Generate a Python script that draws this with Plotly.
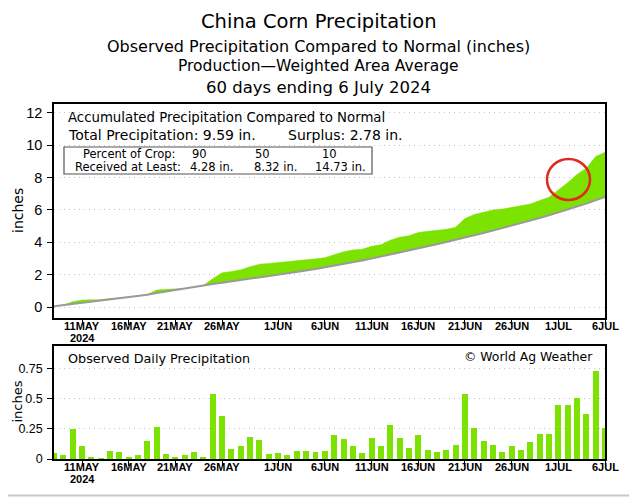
import numpy as np
import pandas as pd
import plotly.graph_objects as go
from plotly.subplots import make_subplots

# 60 days ending 6 July 2024
dates = pd.date_range("2024-05-08", "2024-07-06", freq="D")

# observed daily precipitation (inches)
daily_precip = [
    0.05, 0.03, 0.25, 0.105, 0.015, 0.005, 0.07, 0.055, 0.015, 0.037,
    0.15, 0.27, 0.04, 0.014, 0.03, 0.055, 0.02, 0.54, 0.36, 0.083,
    0.108, 0.186, 0.16, 0.042, 0.053, 0.036, 0.07, 0.067, 0.061, 0.07,
    0.20, 0.17, 0.11, 0.047, 0.175, 0.105, 0.28, 0.178, 0.089, 0.20,
    0.075, 0.058, 0.072, 0.12, 0.54, 0.26, 0.15, 0.12, 0.055, 0.105,
    0.072, 0.14, 0.21, 0.21, 0.45, 0.45, 0.51, 0.375, 0.73, 0.26,
]

# normal accumulated precipitation (inches)
normal_accum = [
    0.05, 0.12, 0.19, 0.25, 0.32, 0.38, 0.45, 0.51, 0.58, 0.67,
    0.76, 0.86, 0.96, 1.06, 1.15, 1.25, 1.34, 1.42, 1.50, 1.58,
    1.66, 1.74, 1.82, 1.89, 1.97, 2.06, 2.15, 2.25, 2.35, 2.45,
    2.54, 2.65, 2.76, 2.87, 2.99, 3.11, 3.23, 3.36, 3.49, 3.62,
    3.75, 3.88, 4.01, 4.15, 4.29, 4.43, 4.57, 4.72, 4.87, 5.02,
    5.18, 5.34, 5.50, 5.67, 5.84, 6.02, 6.21, 6.40, 6.60, 6.81,
]

tick_dates = ["2024-05-11", "2024-05-16", "2024-05-21", "2024-05-26", "2024-06-01",
              "2024-06-06", "2024-06-11", "2024-06-16", "2024-06-21", "2024-06-26",
              "2024-07-01", "2024-07-06"]
tick_text = ["11MAY", "16MAY", "21MAY", "26MAY", "1JUN", "6JUN", "11JUN",
             "16JUN", "21JUN", "26JUN", "1JUL", "6JUL"]
year_label = "2024"

crop_pct = ["90", "50", "10"]
crop_recv = ["4.28 in.", "8.32 in.", "14.73 in."]
total_precip = 9.59
surplus = 2.78

GREEN = "#7ce200"
GREY = "#9a9a9a"
FONT = "DejaVu Sans"
NARROW = "Liberation Sans"

obs_accum = np.cumsum(daily_precip)
upper = np.maximum(obs_accum, normal_accum)

# the page puts the figure 8px in from the window corner, so the figure is
# 8px smaller and all positions below are given in window (reference) pixels
OFF = 8
W, H = 637, 497
L, R, T, B = 54, 605, 104, 459
pw, ph = R - L, B - T


def px(x):
    return (x - L) / pw


def py(y):
    return (B - y) / ph


fig = make_subplots(rows=2, cols=1, vertical_spacing=0.08)

# top panel: accumulated vs normal
fig.add_trace(go.Scatter(x=dates, y=normal_accum, mode="lines",
                         line=dict(width=0, color=GREY), showlegend=False,
                         hoverinfo="skip"), row=1, col=1)
fig.add_trace(go.Scatter(x=dates, y=upper, mode="lines", fill="tonexty",
                         fillcolor=GREEN, line=dict(width=0.5, color=GREEN),
                         showlegend=False), row=1, col=1)
fig.add_trace(go.Scatter(x=dates, y=normal_accum, mode="lines",
                         line=dict(width=2, color=GREY), showlegend=False),
              row=1, col=1)

# bottom panel: daily bars
fig.add_trace(go.Bar(x=dates, y=daily_precip, marker_color=GREEN,
                     marker_line_width=0, width=0.64 * 86400000,
                     showlegend=False), row=2, col=1)

fig.update_xaxes(
    type="date", range=["2024-05-08", "2024-07-06"],
    tickmode="array", tickvals=tick_dates, showticklabels=False,
    ticks="outside", ticklen=5, tickwidth=1, tickcolor="black",
    showline=True, linecolor="black", linewidth=1.5, mirror=True,
    showgrid=False, zeroline=False, automargin=False, domain=[0, 1],
)

fig.update_yaxes(
    ticks="outside", ticklen=5, tickwidth=1, tickcolor="black",
    showline=True, linecolor="black", linewidth=1.5, mirror=True,
    showgrid=True, gridcolor="#c4c4c4", griddash="1px,4px", gridwidth=1,
    zeroline=False, automargin=False, ticklabelstandoff=2,
)
fig.update_yaxes(range=[-0.68, 12.55], tickvals=[0, 2, 4, 6, 8, 10, 12],
                 tickfont=dict(family=NARROW, size=14.5, color="black"),
                 domain=[py(318), 1], row=1, col=1)
fig.update_yaxes(range=[0, 0.94], tickvals=[0, 0.25, 0.5, 0.75],
                 ticktext=["0", "0.25", "0.5", "0.75"],
                 tickfont=dict(family=NARROW, size=12.5, color="black"),
                 domain=[0, py(346)], row=2, col=1)


def label(text, x, y, size=12.5, anchor="left", angle=0, family=FONT,
          xref="paper", weight="normal"):
    fig.add_annotation(text=text, xref=xref, yref="paper",
                       x=px(x) if xref == "paper" else x, y=py(y),
                       xanchor=anchor, yanchor="middle", showarrow=False,
                       textangle=angle,
                       font=dict(family=family, size=size, color="black",
                                 weight=weight))


# titles
label("China Corn Precipitation", W / 2, 21, size=19.5, anchor="center")
label("Observed Precipitation Compared to Normal (inches)", W / 2, 46, size=16, anchor="center")
label("Production\u2014Weighted Area Average", W / 2, 66, size=15.5, anchor="center")
label("60 days ending 6 July 2024", W / 2, 87, size=16.5, anchor="center")

# date labels under both panels
for xref, y_lab, y_year in [("x", 326, 338), ("x2", 467, 479)]:
    for d, t in zip(tick_dates, tick_text):
        label(t, d, y_lab, size=11, anchor="center", family=NARROW, xref=xref,
              weight="bold")
    label(year_label, tick_dates[0], y_year, size=11, anchor="center",
          family=NARROW, xref=xref, weight="bold")

# axis titles
label("inches", 18, 211, size=14, anchor="center", angle=-90)
label("inches", 16.5, 402, size=13, anchor="center", angle=-90)

label("Accumulated Precipitation Compared to Normal", 66, 118, size=13.3)
label(f"Total Precipitation: {total_precip:.2f} in.", 66, 135, size=14)
label(f"Surplus: {surplus:.2f} in.", 286, 135, size=14)

# crop box
fig.add_shape(type="rect", xref="paper", yref="paper", x0=px(64), x1=px(372),
              y0=py(174), y1=py(147), line=dict(color="#555555", width=1.2),
              fillcolor="white")
label("Percent of Crop:", 129, 154, size=11.5, anchor="center")
label("Received at Least:", 128, 167, size=11.5, anchor="center")
for pct, recv, xp, xr in zip(crop_pct, crop_recv, [190, 253, 320], [188, 252, 313]):
    label(pct, xp, 154, size=11.5)
    label(recv, xr, 167, size=11.5)

label("Observed Daily Precipitation", 66, 358, size=12.8)
label("\u00a9 World Ag Weather", 595, 356, size=12.4, anchor="right")

# red highlight circle around the early-July jump
fig.add_shape(type="circle", xref="paper", yref="paper",
              x0=px(547), x1=px(590), y0=py(200), y1=py(159),
              line=dict(color="#e02a1b", width=2.5))

# right and bottom edges of the screenshot frame
fig.add_shape(type="line", xref="paper", yref="paper",
              x0=px(635.5), x1=px(635.5), y0=py(496), y1=py(OFF),
              line=dict(color="#c8c8c8", width=2))
fig.add_shape(type="line", xref="paper", yref="paper",
              x0=px(OFF), x1=px(636), y0=py(495.5), y1=py(495.5),
              line=dict(color="#c8c8c8", width=2))

fig.update_layout(
    width=W - OFF, height=H - OFF,
    margin=dict(l=L - OFF, r=W - R, t=T - OFF, b=H - B, pad=0),
    plot_bgcolor="white", paper_bgcolor="white",
    bargap=0, showlegend=False,
    font=dict(family=FONT, color="black"),
)

fig.write_html("out.html")
